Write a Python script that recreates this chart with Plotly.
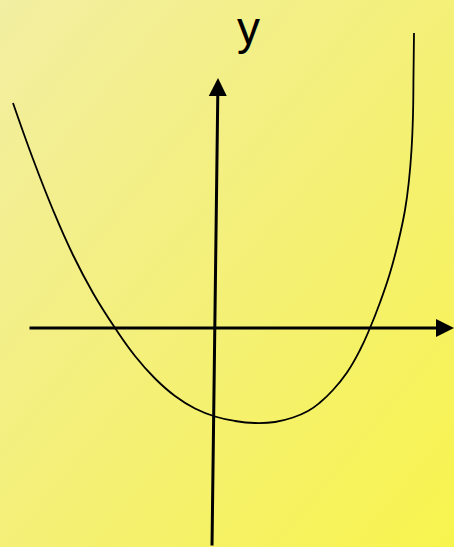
import base64

import plotly.graph_objects as go

# curve (origin at the axes crossing)
curve_x = [-4.06, -3.66, -3.26, -2.86, -2.46, -2.02, -1.62, -1.22, -0.82,
           -0.42, -0.02, 0.38, 0.78, 1.18, 1.54, 1.84, 2.08, 2.34, 2.62,
           2.88, 3.08, 3.28, 3.48, 3.64, 3.78, 3.86, 3.91, 3.94, 3.95, 3.96]
curve_y = [4.50, 3.38, 2.36, 1.46, 0.70, 0.00, -0.56, -1.01, -1.36,
           -1.61, -1.77, -1.86, -1.90, -1.88, -1.79, -1.66, -1.49, -1.24, -0.89,
           -0.44, 0.00, 0.51, 1.10, 1.70, 2.36, 2.96, 3.56, 4.26, 5.06, 5.90]

# axis arrows: tail -> tip
x_axis_tail = (-3.76, 0.0)
x_axis_tip = (4.76, 0.0)
y_axis_tail = (-0.08, -4.38)
y_axis_tip = (0.04, 5.0)

axis_label = 'y'
label_pos = (0.64, 6.0)

# diagonal yellow background
svg = ('<svg xmlns="http://www.w3.org/2000/svg" width="454" height="547" '
       'preserveAspectRatio="none">'
       '<defs><linearGradient id="g" x1="0" y1="0" x2="1" y2="1">'
       '<stop offset="0" stop-color="#f2eea2"/>'
       '<stop offset="0.5" stop-color="#f4f078"/>'
       '<stop offset="1" stop-color="#f8f44e"/>'
       '</linearGradient></defs>'
       '<rect width="454" height="547" fill="url(#g)"/></svg>')
bg_src = 'data:image/svg+xml;base64,' + base64.b64encode(svg.encode()).decode()

fig = go.Figure()

fig.add_trace(
    go.Scatter(
        x=curve_x,
        y=curve_y,
        mode='lines',
        line=dict(color='black', width=1.8, shape='spline', smoothing=1.3),
        hoverinfo='skip',
        showlegend=False,
    )
)

for tail, tip in [(x_axis_tail, x_axis_tip), (y_axis_tail, y_axis_tip)]:
    fig.add_annotation(
        x=tip[0], y=tip[1],
        ax=tail[0], ay=tail[1],
        xref='x', yref='y', axref='x', ayref='y',
        text='',
        showarrow=True,
        arrowhead=2,
        arrowsize=1.2,
        arrowwidth=3,
        arrowcolor='black',
    )

fig.add_annotation(
    x=label_pos[0], y=label_pos[1],
    xref='x', yref='y',
    text=axis_label,
    showarrow=False,
    font=dict(family='Liberation Sans, Arial', size=46, color='black'),
)

fig.update_layout(
    width=454,
    height=547,
    margin=dict(t=0, r=0, b=0, l=0),
    paper_bgcolor='#f4f078',
    plot_bgcolor='rgba(0,0,0,0)',
    xaxis=dict(range=[-4.32, 4.76], visible=False, fixedrange=True),
    yaxis=dict(range=[-4.38, 6.56], visible=False, fixedrange=True),
    images=[dict(
        source=bg_src,
        xref='paper', yref='paper',
        x=0, y=1, sizex=1, sizey=1,
        xanchor='left', yanchor='top',
        sizing='stretch',
        layer='below',
    )],
)

fig.write_html(
    'out.html',
    config={'displayModeBar': False},
    post_script="document.body.style.margin='0';document.body.style.overflow='hidden';",
)
